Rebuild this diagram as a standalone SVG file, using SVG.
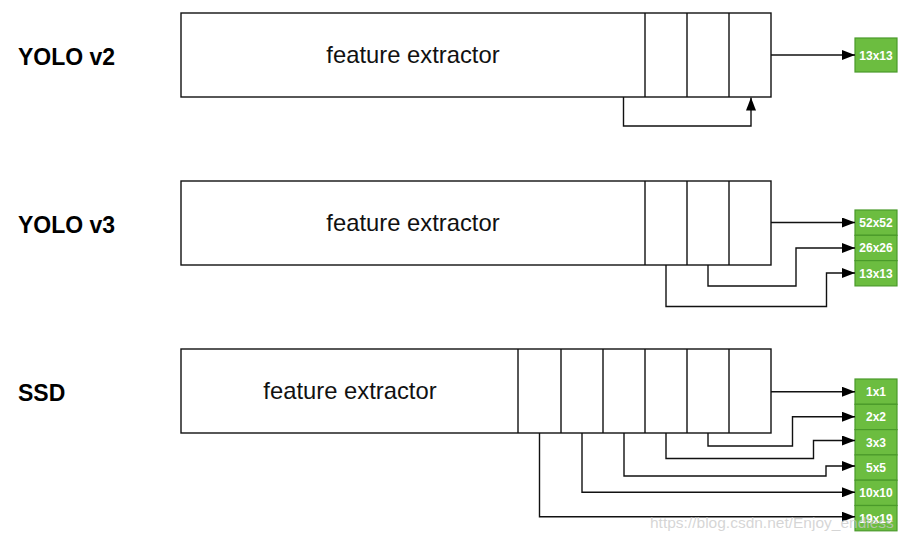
<svg xmlns="http://www.w3.org/2000/svg" width="910" height="542" viewBox="0 0 910 542">
<style>
.blk{fill:#fff;stroke:#111;stroke-width:1.4}
.div{stroke:#111;stroke-width:1.4;fill:none}
.ttl{font-family:"Liberation Sans",Arial,sans-serif;font-weight:bold;font-size:23px;fill:#000}
.fe{font-family:"Liberation Sans",Arial,sans-serif;font-size:23.8px;fill:#111;text-anchor:middle}
.cell{fill:#6cbd40;stroke:#4a9a2a;stroke-width:1.2}
.gt{font-family:"Liberation Sans",Arial,sans-serif;font-weight:bold;font-size:12px;fill:#fff;text-anchor:middle}
.con{fill:none;stroke:#111;stroke-width:1.4;marker-end:url(#ah)}
.wm{font-family:"Liberation Sans",Arial,sans-serif;font-size:15.5px;fill:#c8c8c8;fill-opacity:0.75}
</style>
<defs>
<marker id="ah" viewBox="0 0 10 10" refX="10" refY="5" markerWidth="13" markerHeight="10" markerUnits="userSpaceOnUse" orient="auto-start-reverse" preserveAspectRatio="none">
<path d="M0,0 L10,5 L0,10 z" fill="#000"/>
</marker>
</defs>
<g id="labels">
<text class="ttl" x="18" y="65">YOLO v2</text>
<text class="ttl" x="18" y="233">YOLO v3</text>
<text class="ttl" x="18" y="401">SSD</text>
</g>
<g id="yolov2">
<rect class="blk" x="181" y="13" width="590" height="84"/>
<path class="div" d="M645,13V97M687,13V97M729,13V97"/>
<text class="fe" x="413" y="63">feature extractor</text>
</g>
<g id="yolov2-out">
<rect class="cell" x="855" y="38" width="42" height="34"/>
<text class="gt" x="876" y="59.5">13x13</text>
</g>
<g id="yolov3">
<rect class="blk" x="181" y="181" width="590" height="84"/>
<path class="div" d="M645,181V265M687,181V265M729,181V265"/>
<text class="fe" x="413" y="231">feature extractor</text>
</g>
<g id="yolov3-out">
<rect class="cell" x="855" y="210" width="42" height="25.3"/>
<rect class="cell" x="855" y="235.3" width="42" height="25.3"/>
<rect class="cell" x="855" y="260.6" width="42" height="25.3"/>
<text class="gt" x="876" y="227">52x52</text>
<text class="gt" x="876" y="252.3">26x26</text>
<text class="gt" x="876" y="277.6">13x13</text>
</g>
<g id="ssd">
<rect class="blk" x="181" y="349" width="590" height="84"/>
<path class="div" d="M518,349V433M561,349V433M603,349V433M645,349V433M687,349V433M729,349V433"/>
<text class="fe" x="350" y="399">feature extractor</text>
</g>
<g id="ssd-out">
<rect class="cell" x="855" y="379" width="42" height="25.3"/>
<rect class="cell" x="855" y="404.3" width="42" height="25.3"/>
<rect class="cell" x="855" y="429.6" width="42" height="25.3"/>
<rect class="cell" x="855" y="454.9" width="42" height="25.3"/>
<rect class="cell" x="855" y="480.2" width="42" height="25.3"/>
<rect class="cell" x="855" y="505.5" width="42" height="25.3"/>
<text class="gt" x="876" y="396">1x1</text>
<text class="gt" x="876" y="421.3">2x2</text>
<text class="gt" x="876" y="446.6">3x3</text>
<text class="gt" x="876" y="471.9">5x5</text>
<text class="gt" x="876" y="497.2">10x10</text>
<text class="gt" x="876" y="522.5">19x19</text>
</g>
<g id="connectors">
<path class="con" d="M771,55H855"/>
<path class="con" d="M623.5,97V126H751V97.5"/>
<path class="con" d="M771,222.5H855"/>
<path class="con" d="M708,265V286H796V248H855"/>
<path class="con" d="M666,265V306.5H826.5V273H855"/>
<path class="con" d="M771,391.7H855"/>
<path class="con" d="M708,433V446H792.5V416.7H855"/>
<path class="con" d="M666,433V458.5H813.5V440.5H855"/>
<path class="con" d="M624,433V476H826V466H855"/>
<path class="con" d="M582,433V492.3H855"/>
<path class="con" d="M539.5,433V516.7H855"/>
</g>
<text class="wm" x="650" y="528">https://blog.csdn.net/Enjoy_endless</text>
</svg>
